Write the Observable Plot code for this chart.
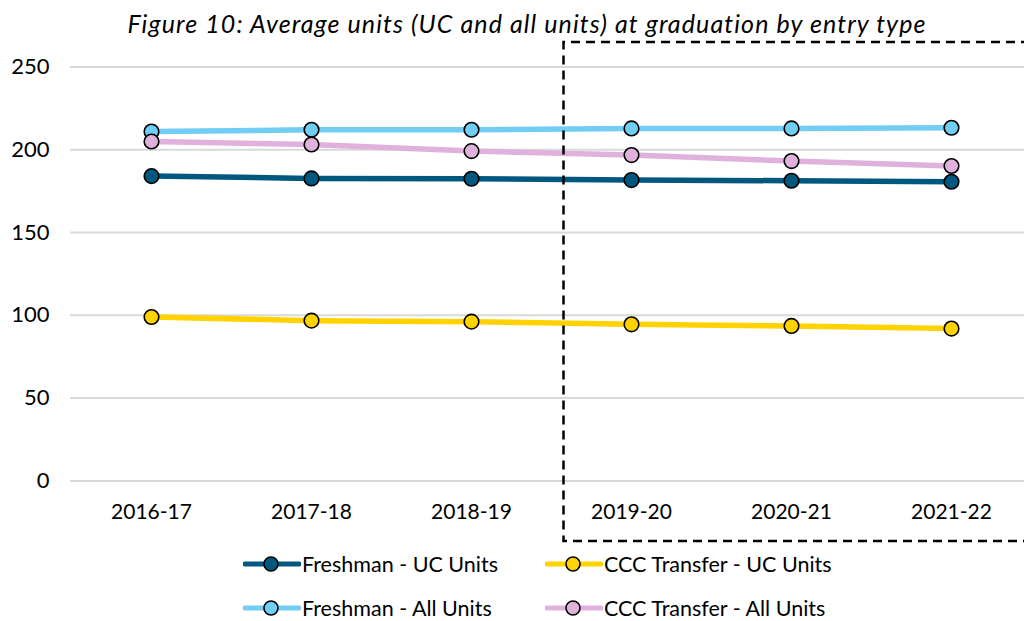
<!DOCTYPE html>
<html><head><meta charset="utf-8">
<script src="https://cdn.jsdelivr.net/npm/d3@7"></script>
<script src="https://cdn.jsdelivr.net/npm/@observablehq/plot@0.6"></script>
<style>
body{margin:0;background:#fff;font-family:Lato,"Open Sans",sans-serif;}
#wrap{position:relative;width:1024px;height:621px;overflow:hidden;}
#title{position:absolute;left:0;top:7px;width:1054px;text-align:center;font-style:italic;font-size:25px;color:#000;letter-spacing:1.1px;line-height:32px}
#chart{position:absolute;left:0;top:48px;}
#box{position:absolute;left:0;top:0;pointer-events:none}
.leg{position:absolute;display:flex;align-items:center;font-size:21.5px;color:#000}
.leg svg{margin-right:1px}
</style></head>
<body><div id="wrap">
<div id="title">Figure 10: Average units (UC and all units) at graduation by entry type</div>
<div id="chart"></div>
<div id="legend"></div>
<svg id="box" width="1024" height="621"><path d="M1030,42 H563.5 V541 H1030" fill="none" stroke="#000" stroke-width="2.5" stroke-dasharray="9,6"/></svg>
</div>
<script>
const years = ["2016-17","2017-18","2018-19","2019-20","2020-21","2021-22"];
const freshmanUC = [184.1, 182.7, 182.5, 181.7, 181.3, 180.7];
const transferUC = [99.0, 96.8, 96.2, 94.6, 93.6, 92.0];
const freshmanAll = [211.0, 212.1, 212.1, 212.9, 212.9, 213.3];
const transferAll = [205.0, 203.2, 199.2, 196.8, 193.2, 190.2];
const seriesNames = ["Freshman - UC Units","CCC Transfer - UC Units","Freshman - All Units","CCC Transfer - All Units"];
const seriesColors = ["#00587F","#FFD200","#72CDF4","#E1B1DD"];
const yTicks = [0,50,100,150,200,250];

const seriesValues = {
  "Freshman - UC Units": freshmanUC,
  "CCC Transfer - UC Units": transferUC,
  "Freshman - All Units": freshmanAll,
  "CCC Transfer - All Units": transferAll
};
const drawOrder = ["Freshman - All Units","CCC Transfer - All Units","Freshman - UC Units","CCC Transfer - UC Units"];
const data = [];
drawOrder.forEach(name => {
  seriesValues[name].forEach((v,i)=>data.push({year:years[i], value:v, series:name}));
});
const color = {domain: seriesNames, range: seriesColors};

const plot = Plot.plot({
  width: 1024, height: 500,
  marginLeft: 70, marginRight: 0, marginTop: 18.5, marginBottom: 67.6,
  style: {fontFamily: "Lato, 'Open Sans', sans-serif", fontSize: "22px", color: "#000", background: "transparent"},
  x: {type: "point", domain: years, range: [150, 952], padding: 0, label: null, tickSize: 0, tickPadding: 23},
  y: {domain: [0, 250], ticks: yTicks, label: null, tickSize: 0, tickPadding: 21},
  color,
  marks: [
    Plot.ruleY(yTicks, {stroke: "#d9d9d9", strokeWidth: 2}),
    Plot.line(data, {x: "year", y: "value", z: "series", stroke: "series", strokeWidth: 5.5}),
    Plot.dot(data, {x: "year", y: "value", fill: "series", stroke: "#000", strokeWidth: 1.6, r: 7.3})
  ]
});
plot.querySelectorAll('[aria-label="x-axis tick label"] text').forEach(t=>t.setAttribute("font-size","21px"));
document.getElementById("chart").appendChild(plot);

const legPos = [[243,564],[545,564],[243,608],[545,608]];
const legend = document.getElementById("legend");
seriesNames.forEach((n,i)=>{
  const d = document.createElement("div");
  d.className = "leg";
  d.style.left = legPos[i][0]+"px";
  d.style.top = (legPos[i][1]-14)+"px";
  d.style.height = "28px";
  d.innerHTML = `<svg width="58" height="20"><line x1="2" x2="56" y1="10" y2="10" stroke="${seriesColors[i]}" stroke-width="5" stroke-linecap="round"/><circle cx="28" cy="10" r="7" fill="${seriesColors[i]}" stroke="#000" stroke-width="1.6"/></svg><span>${n}</span>`;
  legend.appendChild(d);
});
</script>
</body></html>
